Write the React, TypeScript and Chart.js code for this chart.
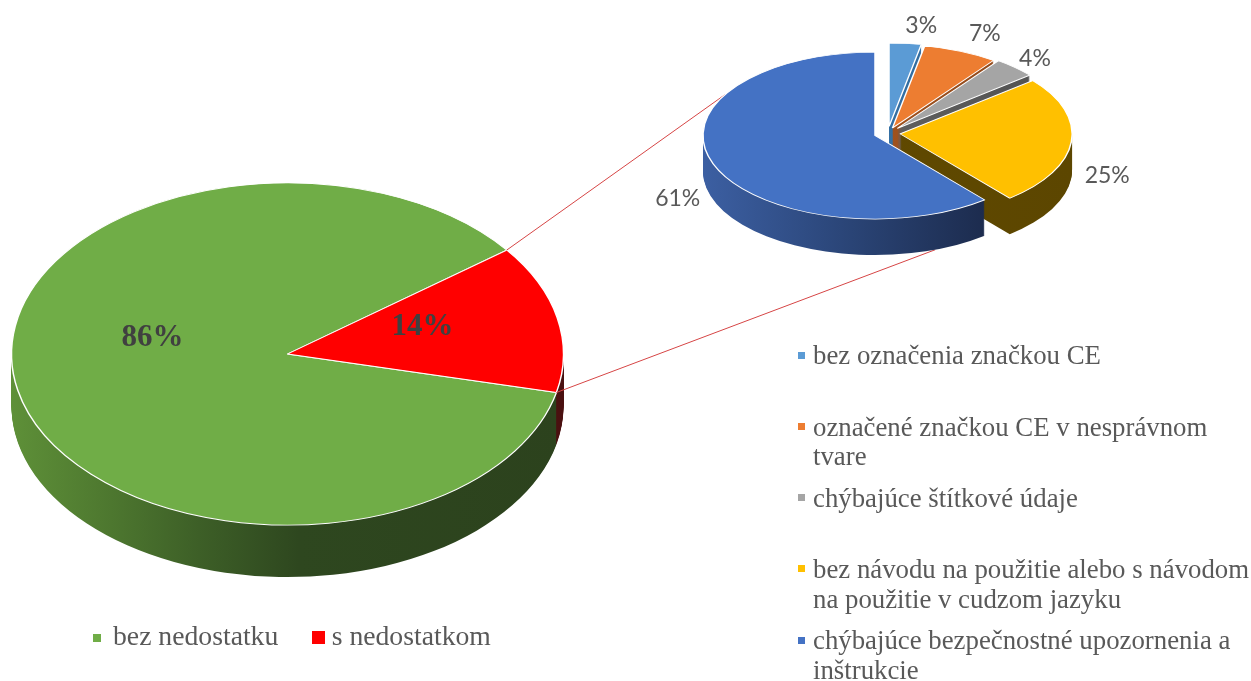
import React, { useEffect, useRef } from 'react';
import { Chart, registerables } from 'chart.js';

Chart.register(...registerables);

// ---------- data ----------
const mainLabels = ['bez nedostatku', 's nedostatkom'];
const mainValues = [86, 14];
const mainColors = ['#70AD47', '#FF0000'];

const detailLabels = [
  'bez označenia značkou CE',
  'označené značkou CE v nesprávnom tvare',
  'chýbajúce štítkové údaje',
  'bez návodu na použitie alebo s návodom na použitie v cudzom jazyku',
  'chýbajúce bezpečnostné upozornenia a inštrukcie',
];
const detailValues = [3, 7, 4, 25, 61];
const detailColors = ['#5B9BD5', '#ED7D31', '#A5A5A5', '#FFC000', '#4472C4'];

// ---------- 3D pie plugin ----------
type Stop = [number, string];
interface Pie3DSettings {
  tilt: number;
  depth: number;
  explode: number[];
  sides: Stop[][];
  labelFactor: number;
  labelNudge: [number, number][];
  labelFont: string;
  labelColor: string;
  labelText: (i: number) => string;
  before?: (ctx: CanvasRenderingContext2D, chart: any) => void;
}

function screenPoint(chart: any, s: Pie3DSettings, i: number, ang: number, down: number): [number, number] {
  const a = chart.getDatasetMeta(0).data[i];
  const mid = (a.startAngle + a.endAngle) / 2;
  const e = s.explode[i] || 0;
  const ux = a.x + e * Math.cos(mid) + a.outerRadius * Math.cos(ang);
  const uy = e * Math.sin(mid) + a.outerRadius * Math.sin(ang);
  return [ux, a.y + s.tilt * uy + down];
}

function makePie3D(s: Pie3DSettings) {
  return {
    id: 'pie3d',
    beforeDatasetsDraw(chart: any) {
      const ctx: CanvasRenderingContext2D = chart.ctx;
      const arcs = chart.getDatasetMeta(0).data as any[];
      if (!arcs.length) return false;
      const cy = arcs[0].y;
      if (s.before) s.before(ctx, chart);
      const geo = arcs.map((a, i) => {
        const mid = (a.startAngle + a.endAngle) / 2;
        const e = s.explode[i] || 0;
        return { a, mid, dx: e * Math.cos(mid), dy: e * Math.sin(mid) };
      });
      const setT = (d: number) => {
        ctx.translate(0, cy + d);
        ctx.scale(1, s.tilt);
        ctx.translate(0, -cy);
      };
      const fills = geo.map((g, i) => {
        const a = g.a;
        const gr = ctx.createLinearGradient(a.x - a.outerRadius, 0, a.x + a.outerRadius, 0);
        for (const [p, c] of s.sides[i]) gr.addColorStop(p, c);
        return gr;
      });
      // side walls, stacked from the bottom up
      for (let d = s.depth; d >= 1; d -= 1) {
        geo.forEach((g, i) => {
          const a = g.a;
          ctx.save();
          setT(d);
          ctx.translate(g.dx, g.dy);
          ctx.beginPath();
          ctx.moveTo(a.x, a.y);
          ctx.arc(a.x, a.y, a.outerRadius, a.startAngle, a.endAngle);
          ctx.closePath();
          ctx.fillStyle = fills[i];
          ctx.fill();
          ctx.restore();
        });
      }
      // top faces drawn by the library's arc elements
      geo.forEach((g) => {
        ctx.save();
        setT(0);
        ctx.translate(g.dx, g.dy);
        g.a.draw(ctx);
        ctx.restore();
      });
      // labels
      ctx.save();
      ctx.font = s.labelFont;
      ctx.fillStyle = s.labelColor;
      ctx.textAlign = 'center';
      ctx.textBaseline = 'middle';
      geo.forEach((g, i) => {
        const a = g.a;
        const r = a.outerRadius * s.labelFactor;
        const x = a.x + g.dx + r * Math.cos(g.mid) + s.labelNudge[i][0];
        const y = cy + s.tilt * (g.dy + r * Math.sin(g.mid)) + s.labelNudge[i][1];
        ctx.fillText(s.labelText(i), x, y);
      });
      ctx.restore();
      return false;
    },
  };
}

const deg = (d: number) => (d * Math.PI) / 180;

const serif = "'Liberation Serif', 'Times New Roman', serif";
const textGray = '#595959';

export default function App() {
  const leftRef = useRef<HTMLCanvasElement>(null);
  const rightRef = useRef<HTMLCanvasElement>(null);

  useEffect(() => {
    const leftS: Pie3DSettings = {
      tilt: 0.62,
      depth: 52,
      explode: [0, 0],
      sides: [
        [[0, '#5e9038'], [0.16, '#4f7a30'], [0.34, '#3d5f27'], [0.52, '#2e471f'], [1, '#2c421d']],
        [[0, '#5a1010'], [1, '#4a1010']],
      ],
      labelFactor: 0.5,
      labelNudge: [[0, -34], [0, -9]],
      labelFont: `bold 31px ${serif}`,
      labelColor: '#404040',
      labelText: (i) => `${mainValues[i]}%`,
    };
    const left = new Chart(leftRef.current as HTMLCanvasElement, {
      type: 'pie',
      data: {
        labels: mainLabels,
        datasets: [
          {
            data: mainValues,
            backgroundColor: mainColors,
            borderColor: '#ffffff',
            borderWidth: 1.5,
            radius: 276,
          } as any,
        ],
      },
      options: {
        responsive: false,
        animation: false,
        events: [],
        rotation: 103,
        layout: { padding: { left: 0, right: 676, top: 27, bottom: 0 } },
        plugins: { legend: { display: false }, tooltip: { enabled: false } },
      } as any,
      plugins: [makePie3D(leftS)],
    });

    const rightS: Pie3DSettings = {
      tilt: 0.4855,
      depth: 36,
      explode: [14, 12, 14, 12.5, 13.5],
      sides: [
        [[0, '#3d7fb8'], [1, '#2a5f8f']],
        [[0, '#b55d22'], [1, '#8a4519']],
        [[0, '#6e6e6e'], [1, '#4f4f4f']],
        [[0, '#634b00'], [1, '#5c4600']],
        [[0, '#3c5fa2'], [0.4, '#2b4679'], [0.83, '#1c2b4d'], [1, '#1a2846']],
      ],
      labelFactor: 1.25,
      labelNudge: [[12, 3], [7, 1], [-9.5, 6.5], [-7, 32], [5, 28]],
      labelFont: "23px Lato, 'Open Sans', sans-serif",
      labelColor: textGray,
      labelText: (i) => `${detailValues[i]}%`,
      before: (ctx, chart) => {
        const red = left.getDatasetMeta(0).data[1] as any;
        const p1 = screenPoint(left, leftS, 1, red.startAngle, 0);
        const p2 = screenPoint(left, leftS, 1, red.endAngle, 0);
        const q1 = screenPoint(chart, rightS, 4, deg(-150.6), 0);
        const q2 = screenPoint(chart, rightS, 4, deg(69.5), rightS.depth);
        ctx.save();
        ctx.strokeStyle = '#d64545';
        ctx.lineWidth = 1;
        ctx.beginPath();
        ctx.moveTo(p1[0], p1[1]);
        ctx.lineTo(q1[0], q1[1]);
        ctx.moveTo(p2[0], p2[1]);
        ctx.lineTo(q2[0], q2[1]);
        ctx.stroke();
        ctx.restore();
      },
    };
    const right = new Chart(rightRef.current as HTMLCanvasElement, {
      type: 'pie',
      data: {
        labels: detailLabels,
        datasets: [
          {
            data: detailValues,
            backgroundColor: detailColors,
            borderColor: '#ffffff',
            borderWidth: 1.5,
            radius: 172,
          } as any,
        ],
      },
      options: {
        responsive: false,
        animation: false,
        events: [],
        rotation: 0,
        layout: { padding: { left: 524.4, right: 0, top: 0, bottom: 414.4 } },
        plugins: { legend: { display: false }, tooltip: { enabled: false } },
      } as any,
      plugins: [makePie3D(rightS)],
    });

    return () => {
      right.destroy();
      left.destroy();
    };
  }, []);

  const legendText: React.CSSProperties = {
    position: 'absolute',
    fontFamily: serif,
    fontSize: '26.8px',
    lineHeight: '29.5px',
    color: textGray,
    whiteSpace: 'normal',
  };
  const leftLegendText: React.CSSProperties = {
    ...legendText,
    fontSize: '27.7px',
    whiteSpace: 'nowrap',
    top: 620.9,
  };

  return (
    <div
      style={{
        position: 'absolute',
        left: 0,
        top: 0,
        width: 1251,
        height: 681,
        overflow: 'hidden',
        background: '#ffffff',
      }}
    >
      <canvas ref={leftRef} width={1251} height={681} style={{ position: 'absolute', left: 0, top: 0 }} />
      <canvas ref={rightRef} width={1251} height={681} style={{ position: 'absolute', left: 0, top: 0 }} />

      {/* left legend */}
      <div style={{ position: 'absolute', left: 93, top: 634, width: 8, height: 8, background: mainColors[0] }} />
      <div style={{ ...leftLegendText, left: 113 }}>{mainLabels[0]}</div>
      <div style={{ position: 'absolute', left: 312, top: 631, width: 13, height: 13, background: mainColors[1] }} />
      <div style={{ ...leftLegendText, left: 331.7 }}>{mainLabels[1]}</div>

      {/* right legend */}
      {detailLabels.map((lab, i) => (
        <React.Fragment key={lab}>
          <div
            style={{
              position: 'absolute',
              left: 798,
              top: 351.5 + i * 71.3,
              width: 7,
              height: 7,
              background: detailColors[i],
            }}
          />
          <div style={{ ...legendText, left: 813, top: 341.2 + i * 71.3, width: 446 }}>{lab}</div>
        </React.Fragment>
      ))}
    </div>
  );
}
